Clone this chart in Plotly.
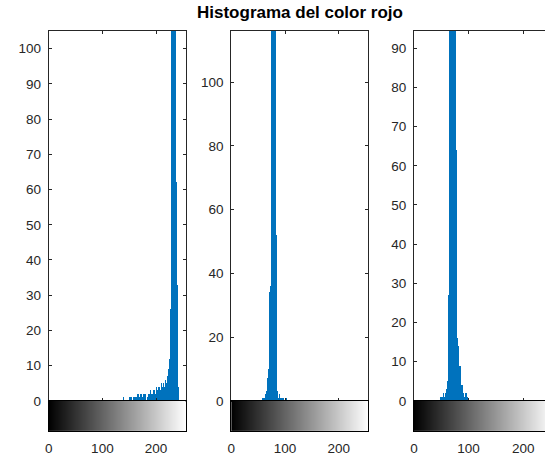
import plotly.graph_objects as go

# ---- data (gray levels with non-zero counts) ----
title_text = "Histograma del color rojo"

bins1 = [139, 150, 153, 157, 160, 163, 166, 168, 171, 174, 177, 180, 183, 186, 189,
         192, 195, 198, 200, 203, 205, 207, 209, 211, 213, 215, 217, 219, 221, 222,
         223, 224, 225, 226, 227, 228, 229, 230, 231, 232, 233, 234, 235, 236, 237,
         238, 239, 240, 241]
counts1 = [1, 1, 1, 1, 1, 1, 2, 1, 2, 1, 2, 2, 1, 2, 3,
           2, 3, 2, 4, 3, 4, 3, 5, 4, 5, 4, 6, 5, 7, 5,
           9, 10, 12, 24, 26, 130, 170, 230, 290, 310, 260, 210, 160, 62, 58,
           33, 30, 4, 2]

bins2 = [60, 63, 65, 67, 68, 69, 70, 71, 72, 73, 74, 75, 76, 77, 78, 79, 80, 81,
         82, 83, 84, 85, 86, 87, 90, 93, 97, 103]
counts2 = [1, 1, 2, 3, 5, 7, 8, 10, 12, 34, 36, 130, 150, 200, 260, 230, 180, 150,
           130, 120, 52, 4, 3, 1, 2, 1, 1, 1]

bins3 = [49, 52, 54, 56, 58, 60, 62, 63, 64, 65, 66, 67, 68, 69, 70, 71, 72, 73,
         74, 75, 76, 77, 78, 79, 80, 81, 82, 83, 84, 85, 86, 87, 88, 90, 92, 95, 98]
counts3 = [1, 1, 2, 1, 2, 3, 5, 25, 27, 110, 140, 190, 230, 200, 170, 150, 130, 120,
           110, 100, 65, 64, 18, 16, 15, 14, 9, 8, 9, 5, 4, 3, 4, 2, 1, 2, 1]

gray_levels = list(range(256))
x_ticks = [0, 100, 200]
y_ticks1 = [0, 10, 20, 30, 40, 50, 60, 70, 80, 90, 100]
y_ticks2 = [0, 20, 40, 60, 80, 100]
y_ticks3 = [0, 10, 20, 30, 40, 50, 60, 70, 80, 90]
y_max = [105, 116, 94.4]
x_max = [255, 255, 240]


def full_hist(bins, counts):
    h = [0] * 256
    for b, c in zip(bins, counts):
        h[b] = c
    return h


hists = [full_hist(bins1, counts1), full_hist(bins2, counts2), full_hist(bins3, counts3)]
yticks = [y_ticks1, y_ticks2, y_ticks3]

W, H = 545, 469
SCREEN_H = 460
panels_px = [(45, 183), (229, 367), (413, 545)]
top_px, zero_px, grad_px = 31, 400, 430


def fx(px):
    return px / W


def fy(py):
    return 1 - py / SCREEN_H


BLUE = "#0072BD"
AX = "#262626"
FONT = "Liberation Sans, Arial, Helvetica, sans-serif"
TICK_SIZE = 13.5

fig = go.Figure()
layout = dict(
    width=W, height=H,
    margin=dict(l=0, r=0, t=0, b=0),
    paper_bgcolor="white", plot_bgcolor="white",
    showlegend=False, bargap=0,
    font=dict(family=FONT, size=TICK_SIZE, color=AX),
)

for i in range(3):
    x0, x1 = panels_px[i]
    dom_x = [fx(x0), min(1.0, fx(x1))]
    dom_h = [fy(zero_px), fy(top_px)]
    dom_g = [fy(grad_px), fy(zero_px)]
    hx = f"x{2 * i + 1}" if i > 0 else "x"
    hy = f"y{2 * i + 1}" if i > 0 else "y"
    gx = f"x{2 * i + 2}"
    gy = f"y{2 * i + 2}"

    fig.add_trace(go.Bar(x=gray_levels, y=hists[i], width=1.0,
                         marker=dict(color=BLUE, line=dict(width=0)),
                         xaxis=hx, yaxis=hy, hoverinfo="x+y"))
    fig.add_trace(go.Heatmap(x=gray_levels, y=[0], z=[gray_levels],
                             colorscale=[[0, "black"], [1, "white"]],
                             showscale=False, xaxis=gx, yaxis=gy, hoverinfo="skip"))

    hxk = "xaxis" if i == 0 else f"xaxis{2 * i + 1}"
    hyk = "yaxis" if i == 0 else f"yaxis{2 * i + 1}"
    gxk = f"xaxis{2 * i + 2}"
    gyk = f"yaxis{2 * i + 2}"

    layout[hxk] = dict(domain=dom_x, anchor=hy, range=[0, x_max[i]],
                       tickvals=x_ticks, showticklabels=False, ticks="inside",
                       ticklen=3, tickcolor=AX, showline=True, linecolor=AX,
                       linewidth=1, mirror="ticks", showgrid=False, zeroline=False)
    layout[hyk] = dict(domain=dom_h, anchor=hx, range=[0, y_max[i]],
                       tickvals=yticks[i], ticks="inside", ticklen=3, tickcolor=AX,
                       showline=True, linecolor=AX, linewidth=1,
                       mirror=("ticks" if i < 2 else False),
                       showgrid=False, zeroline=False, ticklabelstandoff=4,
                       tickfont=dict(size=TICK_SIZE, color=AX))
    layout[gxk] = dict(domain=dom_x, anchor=gy, range=[0, x_max[i]],
                       tickvals=x_ticks, ticks="outside", ticklen=5,
                       tickcolor="rgba(0,0,0,0)", showline=True, linecolor="black",
                       linewidth=1, mirror=True, showgrid=False, zeroline=False,
                       tickfont=dict(size=TICK_SIZE, color=AX))
    layout[gyk] = dict(domain=dom_g, anchor=gx, range=[-0.5, 0.5],
                       showticklabels=False, ticks="", showline=True,
                       linecolor="black", linewidth=1,
                       mirror=(True if i < 2 else False),
                       showgrid=False, zeroline=False)

layout["annotations"] = [dict(
    text="<b>" + title_text + "</b>", x=fx((229 + 367) / 2), y=fy(12),
    xref="paper", yref="paper", xanchor="center", yanchor="middle",
    showarrow=False, font=dict(family=FONT, size=17, color="black"))]

fig.update_layout(**layout)
# remove the default 8px page margin so the figure fills the window exactly
fig.write_html("out.html",
               config={"displayModeBar": False},
               post_script="document.body.style.margin='0px';"
                           "document.body.style.overflow='hidden';")
